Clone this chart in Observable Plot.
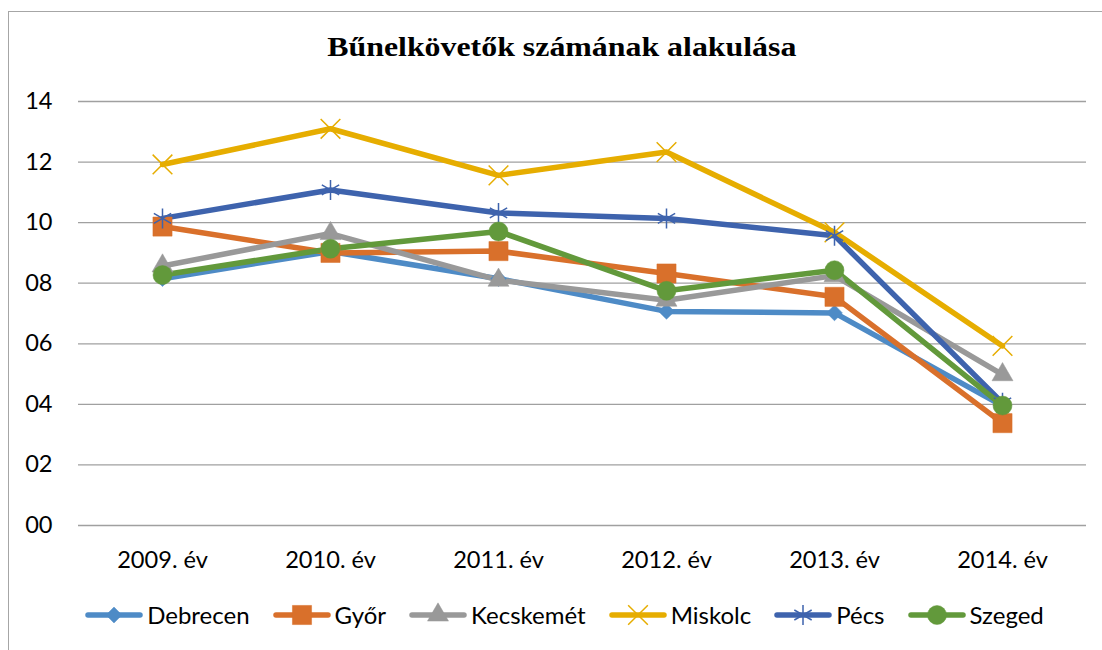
<!DOCTYPE html>
<html>
<head>
<meta charset="utf-8">
<script src="https://cdn.jsdelivr.net/npm/d3@7"></script>
<script src="https://cdn.jsdelivr.net/npm/@observablehq/plot@0.6"></script>
<style>
  body { margin: 0; background: #fff; width: 1102px; height: 650px; overflow: hidden; position: relative; }
  #frame { position: absolute; left: 8px; top: 11px; width: 1120px; height: 660px; border-left: 1px solid #a6a6a6; border-top: 1px solid #a6a6a6; }
  #title { position: absolute; top: 32px; left: 0; width: 1124px; text-align: center; font-family: "Liberation Serif", serif; font-weight: bold; font-size: 27px; line-height: 30px; color: #000; }
  #title span { display: inline-block; transform: scaleX(1.18); transform-origin: center; }
  #chart { position: absolute; top: 80px; left: 0; }
  #legend { position: absolute; top: 601px; left: 0; width: 1129px; display: flex; justify-content: center; gap: 23px; font-family: Lato, sans-serif; font-size: 24px; line-height: 28px; color: #000; align-items: center; }
  .item { display: flex; align-items: center; gap: 4px; }
</style>
</head>
<body>
<div id="frame"></div>
<div id="title"><span>Bűnelkövetők számának alakulása</span></div>
<div id="chart"></div>
<div id="legend"></div>
<script>
const years = ["2009. év", "2010. év", "2011. év", "2012. év", "2013. év", "2014. év"];
const seriesNames = ["Debrecen", "Győr", "Kecskemét", "Miskolc", "Pécs", "Szeged"];
const debrecen  = [8.15, 9.05, 8.15, 7.07, 7.02, 3.95];
const gyor      = [9.87, 9.0, 9.06, 8.32, 7.55, 3.38];
const kecskemet = [8.57, 9.64, 8.1, 7.44, 8.25, 4.98];
const miskolc   = [11.92, 13.1, 11.56, 12.33, 9.68, 5.93];
const pecs      = [10.14, 11.08, 10.32, 10.14, 9.57, 4.05];
const szeged    = [8.27, 9.14, 9.71, 7.75, 8.43, 3.96];
const yTicks = [0, 2, 4, 6, 8, 10, 12, 14];

const values = [debrecen, gyor, kecskemet, miskolc, pecs, szeged];
const colors = ["#4e8bc6", "#d9702b", "#999999", "#e6ad00", "#3e63ad", "#62993b"];
const markers = [
  {symbol: "square", r: 6.3, rotate: 45, filled: true},
  {symbol: "square", r: 10.8, rotate: 0, filled: true},
  {symbol: "triangle", r: 7.8, rotate: 0, filled: true},
  {symbol: "times", r: 9, rotate: 0, filled: false},
  {symbol: "asterisk", r: 9.5, rotate: 0, filled: false},
  {symbol: "circle", r: 9.5, rotate: 0, filled: true}
];

const series = seriesNames.map((name, i) => ({
  name, color: colors[i], marker: markers[i],
  data: years.map((year, j) => ({year, value: values[i][j]}))
}));

const marks = [Plot.gridY(yTicks, {stroke: "#a0a0a0", strokeOpacity: 1, strokeWidth: 1.3})];
for (const s of series) {
  marks.push(Plot.line(s.data, {x: "year", y: "value", stroke: s.color, strokeWidth: 5.5, strokeLinejoin: "round", strokeLinecap: "round"}));
}
for (const s of series) {
  const m = s.marker;
  marks.push(Plot.dot(s.data, {
    x: "year", y: "value", symbol: m.symbol, r: m.r, rotate: m.rotate,
    fill: m.filled ? s.color : "none",
    stroke: s.color, strokeWidth: m.filled ? 0.5 : 1.5
  }));
}

const chart = Plot.plot({
  width: 1102,
  height: 510,
  marginLeft: 78,
  marginRight: 16,
  marginTop: 21,
  marginBottom: 65,
  style: {fontFamily: "Lato, sans-serif", fontSize: "23.6px", color: "#000", background: "transparent"},
  x: {type: "point", domain: years, padding: 0.5, label: null, tickSize: 0, tickPadding: 26},
  y: {domain: [0, 14], ticks: yTicks, tickFormat: d3.format("02d"), label: null, tickSize: 0, tickPadding: 26},
  marks
});
document.getElementById("chart").appendChild(chart);

const legend = document.getElementById("legend");
const symbolTypes = {square: d3.symbolSquare, triangle: d3.symbolTriangle, times: d3.symbolTimes, asterisk: d3.symbolAsterisk, circle: d3.symbolCircle};
for (const s of series) {
  const item = document.createElement("div");
  item.className = "item";
  const sym = d3.symbol(symbolTypes[s.marker.symbol], Math.PI * s.marker.r * s.marker.r)();
  item.innerHTML =
    `<svg width="58" height="26" viewBox="0 0 58 26">
       <line x1="3" y1="13" x2="55" y2="13" stroke="${s.color}" stroke-width="5.5" stroke-linecap="round"/>
       <path d="${sym}" transform="translate(29,13) rotate(${s.marker.rotate})" fill="${s.marker.filled ? s.color : "none"}" stroke="${s.color}" stroke-width="${s.marker.filled ? 0.5 : 1.5}"/>
     </svg><span>${s.name}</span>`;
  legend.appendChild(item);
}
</script>
</body>
</html>
